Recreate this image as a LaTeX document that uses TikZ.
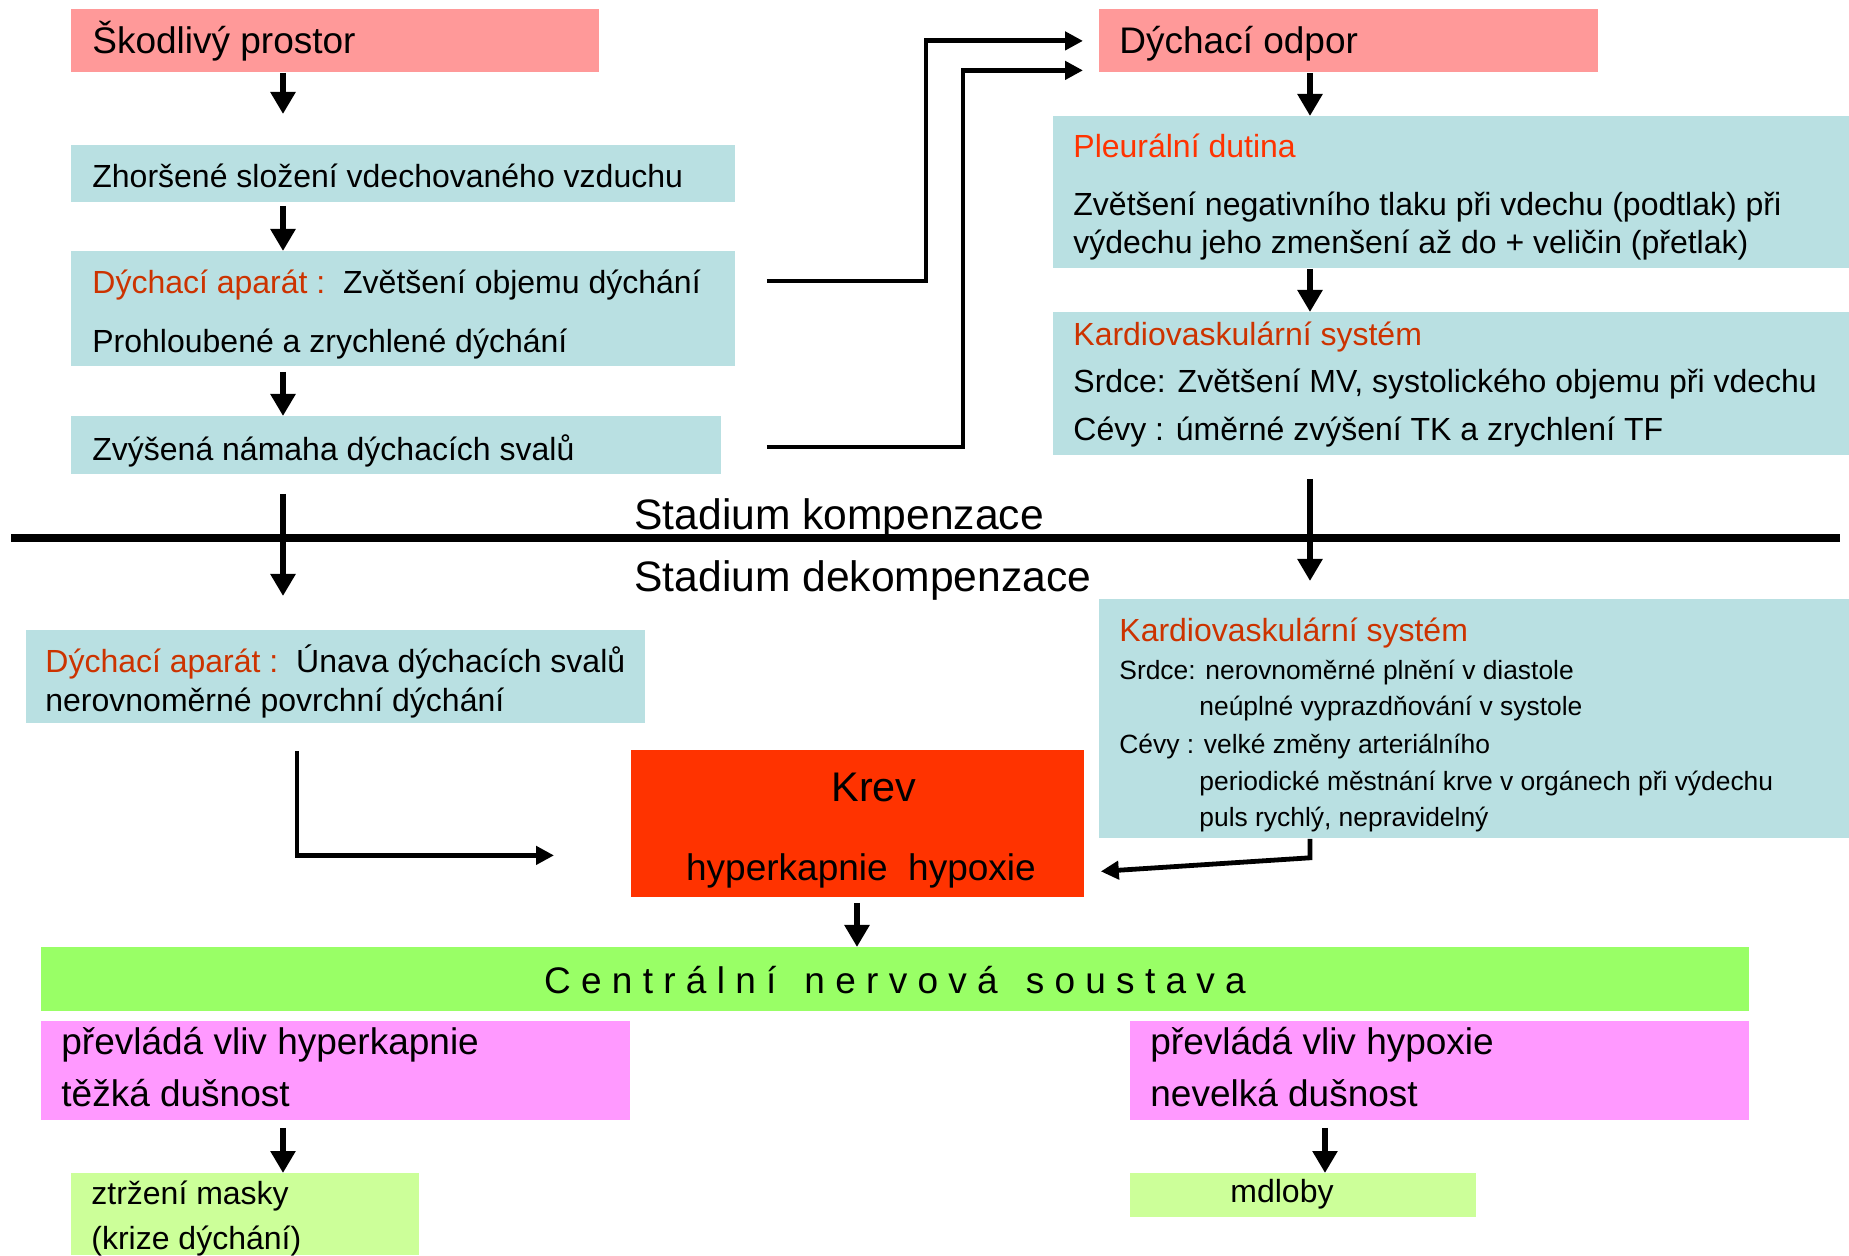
\documentclass[tikz,border=0pt]{standalone}
\usepackage{fontspec}
\setmainfont{Liberation Sans}
\usetikzlibrary{arrows.meta}

\definecolor{salmon}{HTML}{FF9999}
\definecolor{paleblue}{HTML}{B9E0E2}
\definecolor{darkred}{HTML}{CC3300}
\definecolor{brightred}{HTML}{FF3300}
\definecolor{cnsgreen}{HTML}{99FF66}
\definecolor{pinkbox}{HTML}{FF99FF}
\definecolor{palegreen}{HTML}{CCFF99}

\newcommand\szBig{\fontsize{18.5}{22}\selectfont}
\newcommand\szMid{\fontsize{16}{19}\selectfont}
\newcommand\szSmall{\fontsize{13.2}{16}\selectfont}
\newcommand\szStad{\fontsize{21.3}{25}\selectfont}
\newcommand\szKrev{\fontsize{20.7}{25}\selectfont}

\begin{document}
\begin{tikzpicture}[x=0.5pt, y=-0.5pt,
    box/.style={anchor=north west, inner sep=0pt},
    txt/.style={anchor=west, inner sep=0pt, text height=1.5ex, text depth=.25ex, yshift=-3.2pt},
    down/.style={line width=3.25pt, -{Triangle[width=12pt,length=11pt]}},
    elbow/.style={line width=2.4pt, -{Triangle[width=9pt,length=9pt]}}
]
    \useasboundingbox (0,0) rectangle (1849,1256);

    % columns for the arrows
    \coordinate (colL) at (283,0);
    \coordinate (colLb) at (297,0);
    \coordinate (colM) at (857,0);
    \coordinate (colR) at (1310,0);
    \coordinate (colRb) at (1325,0);
    \coordinate (jogA) at (926,0);
    \coordinate (jogB) at (963,0);

    % boxes, left column
    \node[box, fill=salmon, minimum width=264pt, minimum height=31.5pt] (skod) at (71,9) {};
    \node[box, fill=paleblue, minimum width=332pt, minimum height=28.5pt] (zhor) at (71,145) {};
    \node[box, fill=paleblue, minimum width=332pt, minimum height=57.5pt] (aparat) at (71,251) {};
    \node[box, fill=paleblue, minimum width=325pt, minimum height=29pt] (svaly) at (71,416) {};

    % boxes, right column
    \node[box, fill=salmon, minimum width=249.5pt, minimum height=31.5pt] (odpor) at (1099,9) {};
    \node[box, fill=paleblue, minimum width=398pt, minimum height=76pt] (pleura) at (1053,116) {};
    \node[box, fill=paleblue, minimum width=398pt, minimum height=71.5pt] (kardA) at (1053,312) {};
    \node[box, fill=paleblue, minimum width=375pt, minimum height=119.5pt] (kardB) at (1099,599) {};

    % boxes, bottom
    \node[box, fill=paleblue, minimum width=309.5pt, minimum height=46.5pt] (aparatB) at (26,630) {};
    \node[box, fill=brightred, minimum width=226.5pt, minimum height=73.5pt] (krev) at (631,750) {};
    \node[box, fill=cnsgreen, minimum width=854pt, minimum height=32pt] (cns) at (41,947) {};
    \node[box, fill=pinkbox, minimum width=294.5pt, minimum height=49.5pt] (hyperk) at (41,1021) {};
    \node[box, fill=pinkbox, minimum width=309.5pt, minimum height=49.5pt] (hypox) at (1130,1021) {};
    \node[box, fill=palegreen, minimum width=174pt, minimum height=41pt] (maska) at (71,1173) {};
    \node[box, fill=palegreen, minimum width=173pt, minimum height=22pt] (mdloby) at (1130,1173) {};

    % texts, left column
    \node[txt, font=\szBig] (skodT) at (92,41) {Škodlivý prostor};
    \node[txt, font=\szMid] (zhorT) at (92,175) {Zhoršené složení vdechovaného vzduchu};
    \node[txt, font=\szMid] (aparT1) at (92,281) {{\color{darkred}Dýchací aparát :}\ \ Zvětšení objemu dýchání};
    \node[txt, font=\szMid] (aparT2) at (92,340) {Prohloubené a zrychlené dýchání};
    \node[txt, font=\szMid] (svalyT) at (92,447) {Zvýšená námaha dýchacích svalů};

    % texts, right column
    \node[txt, font=\szBig] (odporT) at (1119,41) {Dýchací odpor};
    \node[txt, font=\szMid, text=brightred] (pleuT1) at (1073,145) {Pleurální dutina};
    \node[txt, font=\szMid] (pleuT2) at (1073,203) {Zvětšení negativního tlaku při vdechu (podtlak) při};
    \node[txt, font=\szMid] (pleuT3) at (1073,241) {výdechu jeho zmenšení až do + veličin (přetlak)};
    \node[txt, font=\szMid, text=darkred] (kardAT1) at (1073,333) {Kardiovaskulární systém};
    \node[txt, font=\szMid] (kardAT2) at (1073,380) {Srdce: Zvětšení MV, systolického objemu při vdechu};
    \node[txt, font=\szMid] (kardAT3) at (1073,428) {Cévy : úměrné zvýšení TK a zrychlení TF};

    % stages
    \draw[line width=3.75pt] (11,538) -- (1840,538);
    \node[txt, font=\szStad, yshift=-1.5pt] (stadK) at (634,514) {Stadium kompenzace};
    \node[txt, font=\szStad, yshift=-1.5pt] (stadD) at (634,575) {Stadium dekompenzace};

    % texts, decompensation
    \node[txt, font=\szMid, text=darkred, yshift=1pt] (kardBT1) at (1119,630) {Kardiovaskulární systém};
    \node[txt, font=\szSmall, yshift=2pt] (kardBT2) at (1119,670) {Srdce: nerovnoměrné plnění v diastole};
    \node[txt, font=\szSmall, yshift=2pt] (kardBT3) at (1199,706) {neúplné vyprazdňování v systole};
    \node[txt, font=\szSmall, yshift=2pt] (kardBT4) at (1119,744) {Cévy : velké změny arteriálního};
    \node[txt, font=\szSmall, yshift=2pt] (kardBT5) at (1199,781) {periodické městnání krve v orgánech při výdechu};
    \node[txt, font=\szSmall, yshift=2pt] (kardBT6) at (1199,817) {puls rychlý, nepravidelný};

    \node[txt, font=\szMid] (aparBT1) at (45,659) {{\color{darkred}Dýchací aparát :}\ \ Únava dýchacích svalů};
    \node[txt, font=\szMid] (aparBT2) at (45,698) {nerovnoměrné povrchní dýchání};

    \node[txt, anchor=center, font=\szKrev] (krevT1) at (874,788) {Krev};
    \node[txt, anchor=center, font=\szBig] (krevT2) at (861,867) {hyperkapnie\ \ hypoxie};

    \node[txt, anchor=center, font=\szBig] (cnsT) at (895,980)
        {C e n t r á l n í\hspace{14pt}n e r v o v á\hspace{14pt}s o u s t a v a};

    \node[txt, font=\szBig] (hyperT1) at (61,1041) {převládá vliv hyperkapnie};
    \node[txt, font=\szBig] (hyperT2) at (61,1093) {těžká dušnost};
    \node[txt, font=\szBig] (hypoxT1) at (1150,1041) {převládá vliv hypoxie};
    \node[txt, font=\szBig] (hypoxT2) at (1150,1093) {nevelká dušnost};
    \node[txt, font=\szMid] (maskaT1) at (91,1191) {ztržení masky};
    \node[txt, font=\szMid] (maskaT2) at (91,1236) {(krize dýchání)};
    \node[txt, font=\szMid, yshift=1pt] (mdlobyT) at (1230,1191) {mdloby};

    % arrows down
    \draw[down, shorten >=15.5pt] (skod.south -| colL) -- (zhor.north -| colL);
    \draw[down, shorten <=1.5pt] (zhor.south -| colL) -- (aparat.north -| colL);
    \draw[down, shorten <=2.5pt] (aparat.south -| colL) -- (svaly.north -| colL);
    \draw[down, shorten <=9.5pt, shorten >=17pt] (svaly.south -| colL) -- (aparatB.north -| colL);
    \draw[down] (odpor.south -| colR) -- (pleura.north -| colR);
    \draw[down] (pleura.south -| colR) -- (kardA.north -| colR);
    \draw[down, shorten <=11.5pt, shorten >=9pt] (kardA.south -| colR) -- (kardB.north -| colR);
    \draw[down, shorten <=2.5pt] (krev.south -| colM) -- (cns.north -| colM);
    \draw[down, shorten <=3.5pt] (hyperk.south -| colL) -- (maska.north -| colL);
    \draw[down, shorten <=3.5pt] (hypox.south -| colRb) -- (mdloby.north -| colRb);

    % elbows
    \coordinate (outA) at ([yshift=3.2pt]aparat.east |- aparT1);
    \coordinate (outB) at ([yshift=3.2pt]svaly.east |- svalyT);
    \coordinate (odporLow) at ([yshift=-14.75pt]odpor.west);
    \coordinate (krevIn) at ([yshift=-15.75pt]krev.west);
    \coordinate (krevIn2) at ([xshift=8pt, yshift=-23.75pt]krev.east);
    \draw[elbow, shorten <=15.5pt, shorten >=8pt] (outA) -| (jogA |- odpor.west) -- (odpor.west);
    \draw[elbow, shorten <=22.5pt, shorten >=8pt] (outB) -| (jogB |- odporLow) -- (odporLow);
    \draw[elbow, shorten <=13.5pt, shorten >=38.5pt] (aparatB.south -| colLb) |- (krevIn);
    \draw[elbow] (kardB.south -| colR) -- ++(0,19) -- (krevIn2);

\end{tikzpicture}
\end{document}
